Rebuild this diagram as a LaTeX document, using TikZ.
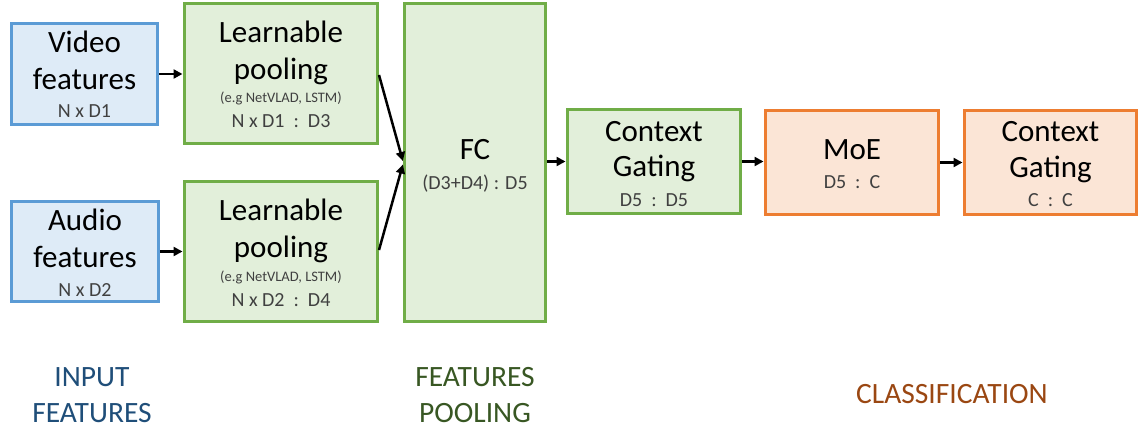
\documentclass[tikz,border=0pt]{standalone}
\usepackage{fontspec}
\setmainfont{Carlito}
\usetikzlibrary{arrows.meta,calc}
\definecolor{bluefill}{HTML}{DEEBF7}
\definecolor{blueline}{HTML}{5B9BD5}
\definecolor{greenfill}{HTML}{E2EFDA}
\definecolor{greenline}{HTML}{70AD47}
\definecolor{orangefill}{HTML}{FBE5D6}
\definecolor{orangeline}{HTML}{ED7D31}
\definecolor{subgray}{HTML}{404040}
\definecolor{inputcol}{HTML}{1F4E79}
\definecolor{poolcol}{HTML}{385723}
\definecolor{classcol}{HTML}{9A4712}
\newcommand{\cgap}{\hspace{0.45em}:\hspace{0.45em}}
\tikzset{
  box/.style={draw, line width=3pt, inner sep=0pt, minimum width=#1},
  bluebox/.style={box=10pt, fill=bluefill, draw=blueline},
  greenbox/.style={box=10pt, fill=greenfill, draw=greenline},
  orangebox/.style={box=10pt, fill=orangefill, draw=orangeline},
  titletext/.style={anchor=base, inner sep=0pt, font=\fontsize{31}{37}\selectfont},
  subtext/.style={anchor=base, inner sep=0pt, text=subgray, font=\fontsize{20}{24}\selectfont},
  tinytext/.style={anchor=base, inner sep=0pt, text=subgray, font=\fontsize{14.5}{17}\selectfont},
  grouptext/.style={anchor=base, inner sep=0pt, align=center, font=\fontsize{29.5}{36}\selectfont},
  arr/.style={-{Triangle[length=9pt,width=9pt]}, line width=2.5pt, black, shorten >=0.5pt},
}
\begin{document}
\begin{tikzpicture}[x=1pt,y=-1pt]
\useasboundingbox (0,0) rectangle (1145,430);
% boxes
\node[bluebox, minimum width=146pt, minimum height=101pt] (video) at (84.5,74) {};
\node[bluebox, minimum width=147pt, minimum height=100pt] (audio) at (85,251.5) {};
\node[greenbox, minimum width=193pt, minimum height=140pt] (lp1) at (281,73.5) {};
\node[greenbox, minimum width=193pt, minimum height=140pt] (lp2) at (281,251.5) {};
\node[greenbox, minimum width=141pt, minimum height=318pt] (fc) at (475,162.5) {};
\node[greenbox, minimum width=173pt, minimum height=104pt] (cg1) at (654,161.5) {};
\node[orangebox, minimum width=173pt, minimum height=104pt] (moe) at (852,162.5) {};
\node[orangebox, minimum width=172pt, minimum height=104pt] (cg2) at (1050.5,162.5) {};
% texts
\node[titletext] (videoA) at (84.5,53) {Video};
\node[titletext] (videoB) at (84.5,90) {features};
\node[subtext] (videoC) at (84.5,118) {N x D1};
\node[titletext] (audioA) at (85,231) {Audio};
\node[titletext] (audioB) at (85,268) {features};
\node[subtext] (audioC) at (85,296) {N x D2};
\node[titletext] (lp1A) at (281,43) {Learnable};
\node[titletext] (lp1B) at (281,80) {pooling};
\node[tinytext] (lp1C) at (281,103) {(e.g NetVLAD, LSTM)};
\node[subtext] (lp1D) at (281,128) {N x D1\cgap D3};
\node[titletext] (lp2A) at (281,221) {Learnable};
\node[titletext] (lp2B) at (281,258) {pooling};
\node[tinytext] (lp2C) at (281,281) {(e.g NetVLAD, LSTM)};
\node[subtext] (lp2D) at (281,306) {N x D2\cgap D4};
\node[titletext] (fcA) at (475,160) {FC};
\node[subtext] (fcB) at (475,190) {(D3+D4) : D5};
\node[titletext] (cg1A) at (654,142) {Context};
\node[titletext] (cg1B) at (654,177) {Gating};
\node[subtext] (cg1C) at (654,207) {D5\cgap D5};
\node[titletext] (moeA) at (852,160) {MoE};
\node[subtext] (moeB) at (852,189) {D5\cgap C};
\node[titletext] (cg2A) at (1050.5,142) {Context};
\node[titletext] (cg2B) at (1050.5,178) {Gating};
\node[subtext] (cg2C) at (1050.5,207) {C\cgap C};
% group labels
\node[grouptext, text=inputcol] (gin) at (92,422) {INPUT\\FEATURES};
\node[grouptext, text=poolcol] (gpool) at (475,422) {FEATURES\\POOLING};
\node[grouptext, text=classcol] (gclass) at (952,403) {CLASSIFICATION};
% arrows
\draw[arr] (video.east) -- (video.east -| lp1.west);
\draw[arr] (audio.east) -- (audio.east -| lp2.west);
\draw[arr] ($(lp1.east)+(0,1.5)$) -- ($(fc.west)+(0,-1)$);
\draw[arr] ($(lp2.east)+(0,-1.5)$) -- ($(fc.west)+(0,1.5)$);
\draw[arr] (fc.east |- cg1.west) -- (cg1.west);
\draw[arr] (cg1.east) -- (cg1.east -| moe.west);
\draw[arr] (moe.east) -- (cg2.west);
\end{tikzpicture}
\end{document}
